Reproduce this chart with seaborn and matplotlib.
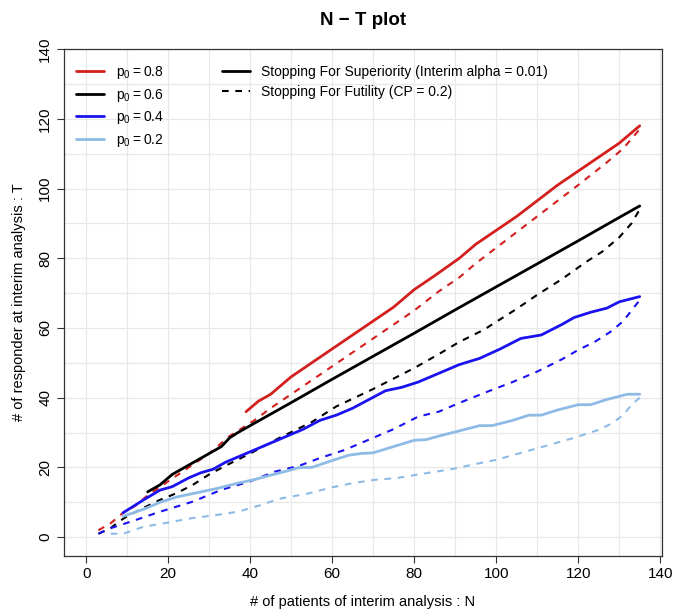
import pandas as pd
import seaborn as sns
import matplotlib.pyplot as plt
from matplotlib.lines import Line2D

# values
p0_labels = ['0.8', '0.6', '0.4', '0.2']
colors = {'0.8': '#d41f1f', '0.6': '#000000', '0.4': '#1a12f0', '0.2': '#8ebbe6'}

# stopping for superiority (solid)
n_sup_08 = [39, 42, 45, 50, 55, 60, 65, 70, 75, 80, 85, 91, 95, 100, 105, 110, 115, 120, 125, 130, 135]
t_sup_08 = [36, 39, 41, 46, 50, 54, 58, 62, 66, 71, 75, 80, 84, 88, 92, 96.5, 101, 105, 109, 113, 118]
n_sup_06 = [15, 18, 21, 24, 27, 30, 33, 35, 37, 40, 50, 60, 70, 80, 90, 100, 110, 120, 130, 135]
t_sup_06 = [13, 15, 18, 20, 22, 24, 26, 28.5, 30, 32, 38.6, 45.3, 51.9, 58.5, 65.2, 71.8, 78.4, 85, 91.7, 95]
n_sup_04 = [9, 14, 18, 21, 25, 28, 31, 34, 38, 41, 45, 49, 53, 57, 61, 65, 69, 73, 77, 81, 86, 91,
            96, 101, 106, 111, 116, 119, 123, 127, 130, 135]
t_sup_04 = [7, 10.7, 13.5, 14.5, 17, 18.5, 19.5, 21.5, 23.5, 25, 27, 29, 31, 33.5, 35, 37, 39.5, 42, 43, 44.5, 47, 49.5,
            51.3, 54, 57, 58, 61, 63, 64.5, 65.7, 67.5, 69]
n_sup_02 = [9, 14, 18, 22, 28, 32, 37, 41, 45, 49, 52, 55, 60, 64, 67, 70, 75, 80, 83, 86, 91, 96,
            99, 104, 108, 111, 115, 120, 123, 127, 132, 135]
t_sup_02 = [6, 8, 10, 11.5, 13, 14, 15.5, 16.5, 17.8, 19, 20, 20, 22, 23.5, 24, 24.2, 26, 27.8, 28, 29, 30.5, 32,
            32, 33.5, 35, 35, 36.5, 38, 38, 39.5, 41, 41]

# stopping for futility (dashed)
n_fut_08 = [3, 6, 9, 12, 15, 20, 25, 30, 35, 41, 45, 50, 55, 60, 65, 70, 75, 80, 86, 91, 95, 100,
            105, 110, 115, 120, 127, 131, 135]
t_fut_08 = [2, 4, 7, 9, 12, 16, 20, 24, 29, 33.5, 37, 41, 45, 49, 53, 57, 61, 65, 70.5, 74.5, 78.5, 83,
            87.5, 92, 96.5, 101, 107.5, 111.5, 117]
n_fut_06 = [3, 6, 8, 10, 15, 18, 22, 26, 30, 34, 40, 47, 55, 61, 70, 80, 86, 91, 97, 105, 110, 116,
            122, 126, 130, 133, 135]
t_fut_06 = [1, 2.6, 4.5, 6, 9, 10.7, 12.6, 15, 18, 20.5, 24, 28.4, 33, 37.5, 42.5, 48.5, 52.5, 56, 59.5, 65.5, 69.5, 74,
            79, 82, 86, 90, 94]
n_fut_04 = [3, 6, 11, 18, 26, 33, 40, 46, 52, 57, 63, 69, 75, 81, 86, 91, 98, 104, 110, 116, 120, 124,
            128, 131, 133, 135]
t_fut_04 = [1, 2.6, 4.5, 7.3, 10.2, 13.6, 16, 18.8, 20.5, 22.7, 25, 28, 31, 34.6, 36, 38.5, 41.8, 44.5, 47.5, 51, 53.7, 56,
            59, 62, 65, 68]
n_fut_02 = [6, 9, 14, 19, 26, 32, 37, 42, 47, 54, 60, 65, 70, 76, 81, 89, 95, 100, 107, 113, 119, 125,
            128, 131, 133, 135]
t_fut_02 = [1, 1, 3, 4, 5.5, 6.4, 7.3, 9, 11, 12.5, 14.3, 15.5, 16.4, 17, 18, 19.5, 21, 22.2, 24.5, 26.5, 28.5, 30.8,
            32.5, 35, 38, 40]

sup = {'0.8': (n_sup_08, t_sup_08), '0.6': (n_sup_06, t_sup_06),
       '0.4': (n_sup_04, t_sup_04), '0.2': (n_sup_02, t_sup_02)}
fut = {'0.8': (n_fut_08, t_fut_08), '0.6': (n_fut_06, t_fut_06),
       '0.4': (n_fut_04, t_fut_04), '0.2': (n_fut_02, t_fut_02)}


def to_frame(series):
    rows = []
    for p0, (ns, ts) in series.items():
        for n, t in zip(ns, ts):
            rows.append({'N': n, 'T': t, 'p0': p0})
    return pd.DataFrame(rows)


df_sup = to_frame(sup)
df_fut = to_frame(fut)

sns.set_style('white')
plt.rcParams['font.family'] = ['Liberation Sans', 'DejaVu Sans']
plt.rcParams['mathtext.fontset'] = 'custom'
plt.rcParams['mathtext.rm'] = 'Liberation Sans'
plt.rcParams['text.color'] = 'black'
plt.rcParams['axes.labelcolor'] = 'black'
plt.rcParams['xtick.color'] = 'black'
plt.rcParams['ytick.color'] = 'black'

fig = plt.figure(figsize=(6.88, 6.13), dpi=100)
ax = fig.add_axes([0.093, 0.0935, 0.869, 0.8265])

# grid every 10
for v in range(0, 141, 10):
    ax.axvline(v, color='#e8e8e8', lw=0.9, zorder=0)
    ax.axhline(v, color='#e8e8e8', lw=0.9, zorder=0)

sns.lineplot(data=df_fut, x='N', y='T', hue='p0', palette=colors, estimator=None,
             sort=False, lw=1.5, dashes=False, legend=False, ax=ax)
for ln in ax.get_lines()[-4:]:
    ln.set_dashes((3.2, 3.2))
sns.lineplot(data=df_sup, x='N', y='T', hue='p0', palette=colors, estimator=None,
             sort=False, lw=2.0, legend=False, ax=ax)

ax.set_xlim(-5.4, 140.4)
ax.set_ylim(-5.3, 140)
ax.set_xticks(range(0, 141, 20))
ax.set_yticks(range(0, 141, 20))
ax.tick_params(axis='both', direction='out', length=5, width=0.8, labelsize=11,
               color='#333333', bottom=True, left=True)
plt.setp(ax.get_yticklabels(), rotation=90, va='center')
for sp in ax.spines.values():
    sp.set_color('#333333')
    sp.set_linewidth(0.9)

ax.set_xlabel('# of patients of interim analysis : N', fontsize=10.5, labelpad=10)
ax.set_ylabel('# of responder at interim analysis : T', fontsize=10.5, labelpad=9)
ax.set_title('N \u2212 T plot', fontsize=13.5, fontweight='bold', pad=17)

h1 = [Line2D([], [], color=colors[p], lw=2.0) for p in p0_labels]
l1 = [r'$\mathregular{p_0 = %s}$' % p for p in p0_labels]
leg1 = ax.legend(h1, l1, loc='upper left', bbox_to_anchor=(0.02, 0.97), frameon=False,
                 fontsize=10, handlelength=2.0, handletextpad=0.85, labelspacing=0.4,
                 borderaxespad=0, borderpad=0)
ax.add_artist(leg1)

h2 = [Line2D([], [], color='black', lw=2.0), Line2D([], [], color='black', lw=1.5, dashes=(3.2, 3.2))]
l2 = ['Stopping For Superiority (Interim alpha = 0.01)', 'Stopping For Futility (CP = 0.2)']
ax.legend(h2, l2, loc='upper left', bbox_to_anchor=(0.264, 0.968), frameon=False,
          fontsize=10, handlelength=2.0, handletextpad=0.85, labelspacing=0.4,
          borderaxespad=0, borderpad=0)

plt.savefig('out.png', dpi=100)
